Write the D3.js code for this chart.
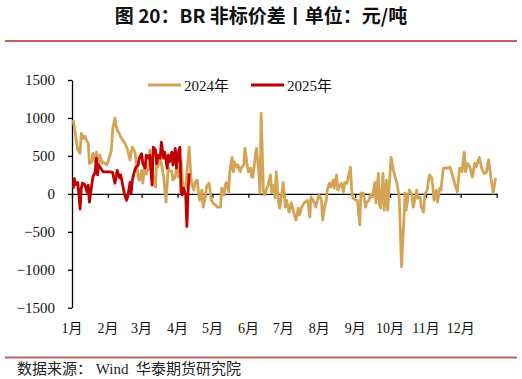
<!DOCTYPE html>
<html><head><meta charset="utf-8">
<script src="https://cdn.jsdelivr.net/npm/d3@7"></script>
<style>
html,body{margin:0;padding:0;background:#fff;}
svg{display:block;}
text{white-space:pre;}
</style></head>
<body><svg id="c" width="522" height="379"></svg>
<script>
const title = "图 20：BR 非标价差丨单位：元/吨";
const source = "数据来源： Wind  华泰期货研究院";
const seriesNames = ["2024年", "2025年"];
const monthLabels = ["1月","2月","3月","4月","5月","6月","7月","8月","9月","10月","11月","12月"];
const yTicks = [-1500, -1000, -500, 0, 500, 1000, 1500];

const dates2024 = ["01-02","01-03","01-05","01-06","01-08","01-09","01-11","01-12","01-14","01-15","01-16","01-18","01-19","01-21","01-22","01-24","01-25","01-27","01-28","01-31",
"02-02","02-04","02-05","02-07","02-08","02-09","02-11","02-12","02-14","02-15","02-17","02-18","02-20","02-21","02-22","02-24","02-25","02-27","02-28",
"03-01","03-02","03-04","03-05","03-07","03-08","03-10","03-11","03-13","03-14","03-15","03-17","03-18","03-20","03-22","03-24","03-25","03-27","03-28","03-30","03-31",
"04-02","04-04","04-05","04-06","04-08","04-11","04-12","04-13","04-15","04-16","04-18","04-19","04-20","04-22","04-23","04-25","04-26","04-28","04-29","04-30",
"05-02","05-04","05-05","05-06","05-08","05-09","05-11","05-12","05-13","05-15","05-16","05-18","05-19","05-20","05-22","05-23","05-25","05-26","05-28","05-29","05-31",
"06-01","06-03","06-04","06-05","06-07","06-08","06-10","06-11","06-12","06-14","06-15","06-17","06-18","06-20","06-21","06-23","06-24","06-25","06-27","06-28","06-30",
"07-01","07-03","07-04","07-06","07-08","07-10","07-12","07-14","07-15","07-17","07-19","07-22","07-24","07-25","07-28","07-29","07-31",
"08-01","08-03","08-04","08-06","08-07","08-08","08-10","08-11","08-13","08-14","08-16","08-17","08-19","08-20","08-22","08-23","08-25","08-26","08-28","08-29","08-30",
"09-02","09-03","09-05","09-06","09-08","09-10","09-11","09-13","09-14","09-16","09-18","09-19","09-21","09-22","09-23","09-25","09-26","09-28","09-29",
"10-02","10-04","10-07","10-09","10-11","10-13","10-14","10-15","10-17","10-18","10-20","10-21","10-23","10-24","10-25","10-27","10-28","10-30","10-31",
"11-02","11-04","11-06","11-07","11-08","11-10","11-11","11-13","11-14","11-16","11-19","11-22","11-25","11-28","11-30",
"12-02","12-04","12-05","12-07","12-09","12-11","12-13","12-14","12-17","12-19","12-21","12-23","12-25","12-27","12-29","12-31"];
const values2024 = [972,880,680,575,535,800,730,760,690,670,400,420,535,420,550,400,510,400,420,380,
470,575,850,1000,900,840,790,750,700,680,620,575,445,550,615,560,470,220,180,
310,140,400,260,350,575,350,220,90,470,350,480,400,220,-110,350,300,300,180,220,350,
220,445,220,10,100,615,350,140,50,155,180,10,-85,50,-175,-40,100,140,50,-85,
-130,-150,-175,-175,-175,75,-15,115,150,25,290,480,290,420,350,380,290,350,380,600,380,
290,340,220,220,510,600,290,10,1060,25,-15,75,115,250,25,115,-55,290,-110,-190,25,
150,-175,-85,-240,-120,-240,-345,-190,-280,-175,-120,-85,-305,-40,-120,-175,-55,
-15,-85,-345,-150,-100,50,140,90,180,75,250,50,115,140,25,150,140,210,350,50,-55,
-85,-85,-410,10,10,-175,-110,-85,-15,-40,150,-120,270,-150,-190,270,-215,180,-215,
480,310,140,-40,-960,-345,10,-215,10,50,-15,-175,-40,50,-55,-40,-175,-240,-15,
50,250,210,90,-85,50,-110,75,50,340,340,350,180,25,340,
290,550,290,400,350,220,400,350,480,340,270,280,450,210,10,210];

const dates2025 = ["01-02","01-03","01-04","01-06","01-08","01-09","01-10","01-12","01-14","01-15","01-16","01-18","01-19","01-21","01-22","01-23","01-24","01-27","01-28","01-31",
"02-03","02-05","02-07","02-08","02-09","02-11","02-12","02-14","02-15","02-17","02-18","02-20","02-21","02-22","02-24","02-25","02-27","02-28",
"03-01","03-02","03-04","03-05","03-07","03-08","03-10","03-11","03-13","03-14","03-15","03-17","03-18","03-20","03-21","03-23","03-24","03-25","03-27","03-28","03-30","03-31",
"04-02","04-03","04-04","04-05","04-06","04-08","04-09","04-10","04-11"];
const values2025 = [70,200,120,150,-200,75,140,120,25,115,-110,120,220,290,470,250,380,310,290,290,
290,280,140,220,310,210,250,90,10,-85,-40,150,10,180,310,350,380,470,
530,400,340,510,470,510,115,615,580,400,510,470,680,470,550,340,510,420,550,380,600,340,
575,615,25,-15,75,-15,-430,25,270];

const colors = ["#D4A455", "#C00000"];

const svg = d3.select("#c");
const x = d3.scaleTime().domain([new Date(2024,0,1), new Date(2025,0,1)]).range([72, 496.7]);
const y = d3.scaleLinear().domain([-1500, 1500]).range([307.7, 80]);
const parse = s => { const [m,d] = s.split("-").map(Number); return new Date(2024, m-1, d); };

// title
svg.append("text").attr("x", 261).attr("y", 23).attr("text-anchor","middle")
  .attr("font-family","'Noto Sans CJK SC', sans-serif").attr("font-weight","bold")
  .attr("font-size", 19).attr("fill","#111").text(title);
svg.append("line").attr("x1",5).attr("x2",517).attr("y1",41).attr("y2",41)
  .attr("stroke","#C0605F").attr("stroke-width",2);
svg.append("line").attr("x1",5).attr("x2",517).attr("y1",357.5).attr("y2",357.5)
  .attr("stroke","#C0605F").attr("stroke-width",2);
svg.append("text").attr("x",17).attr("y",374)
  .attr("font-family","'Liberation Serif','Noto Sans CJK SC', serif")
  .attr("font-size",15).attr("fill","#222").text(source);

// y axis
const yAxis = d3.axisLeft(y).tickValues(yTicks).tickSize(4).tickSizeOuter(0).tickPadding(13).tickFormat(d3.format("d"));
const gy = svg.append("g").attr("transform","translate(72,0)").call(yAxis);
gy.selectAll("text").attr("font-family","'Liberation Serif', serif").attr("font-size",15).attr("fill","#111");
gy.selectAll("line,path").attr("stroke","#000").attr("stroke-width",1.3);

// x axis at zero
const monthStarts = d3.range(0,13).map(i => new Date(2024, i, 1));
const xAxis = d3.axisBottom(x).tickValues(monthStarts).tickSize(4).tickSizeOuter(0).tickFormat("");
const gx = svg.append("g").attr("transform",`translate(0,${y(0)})`).call(xAxis);
gx.selectAll("line,path").attr("stroke","#000").attr("stroke-width",1.3);

svg.append("g").selectAll("text").data(monthLabels).join("text")
  .attr("x",(d,i)=>x(monthStarts[i])).attr("y",333).attr("text-anchor","middle")
  .attr("font-family","'Liberation Serif','Noto Sans CJK SC', serif").attr("font-size",14)
  .attr("fill","#111").text(d=>d);

// lines
const line = d3.line().x(d=>x(d.date)).y(d=>y(d.v));
const s2024 = dates2024.map((d,i)=>({date:parse(d), v:values2024[i]}));
const s2025 = dates2025.map((d,i)=>({date:parse(d), v:values2025[i]}));
svg.append("path").datum(s2024).attr("d",line).attr("fill","none").attr("stroke",colors[0]).attr("stroke-width",2.8).attr("stroke-linejoin","round");
svg.append("path").datum(s2025).attr("d",line).attr("fill","none").attr("stroke",colors[1]).attr("stroke-width",2.8).attr("stroke-linejoin","round");

// legend
const leg = [{x:148, name:seriesNames[0], c:colors[0]}, {x:251, name:seriesNames[1], c:colors[1]}];
leg.forEach(l => {
  svg.append("line").attr("x1",l.x).attr("x2",l.x+33).attr("y1",85).attr("y2",85).attr("stroke",l.c).attr("stroke-width",2.8);
  svg.append("text").attr("x",l.x+36).attr("y",90.5).attr("font-family","'Liberation Serif','Noto Sans CJK SC', serif")
    .attr("font-size",15).attr("fill","#111").text(l.name);
});
</script></body></html>
